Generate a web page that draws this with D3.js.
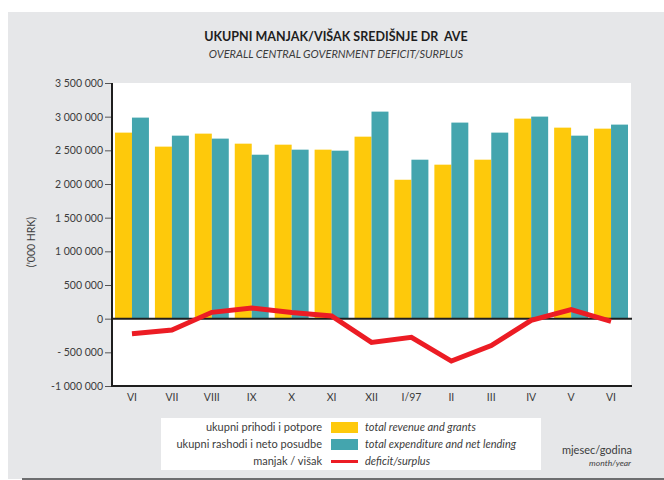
<!DOCTYPE html>
<html>
<head>
<meta charset="utf-8">
<script src="https://cdn.jsdelivr.net/npm/d3@7"></script>
<style>
  html, body { margin: 0; padding: 0; background: #fff; }
  svg { display: block; font-family: Lato, "Open Sans", sans-serif; }
</style>
</head>
<body>
<div id="chart"></div>
<script>
// Monthly central government revenue, expenditure and balance ('000 HRK).
var months = ["VI", "VII", "VIII", "IX", "X", "XI", "XII", "I/97", "II", "III", "IV", "V", "VI"];
var revenue = [2763000, 2555000, 2748000, 2599000, 2584000, 2510000, 2703000,
               2063000, 2287000, 2361000, 2971000, 2837000, 2822000];
var expenditure = [2986000, 2718000, 2674000, 2435000, 2510000, 2495000, 3075000,
                   2361000, 2912000, 2763000, 3001000, 2718000, 2882000];
var balance = [-223000, -169000, 94000, 159000, 90000, 40000, -352000,
               -278000, -630000, -400000, -25000, 134000, -40000];
var yTicks = [3500000, 3000000, 2500000, 2000000, 1500000, 1000000, 500000, 0, -500000, -1000000];
var yTickLabels = ["3 500 000", "3 000 000", "2 500 000", "2 000 000", "1 500 000",
                   "1 000 000", "500 000", "0", "- 500 000", "-1 000 000"];
var legendHr = ["ukupni prihodi i potpore", "ukupni rashodi i neto posudbe", "manjak / višak"];
var legendEn = ["total revenue and grants", "total expenditure and net lending", "deficit/surplus"];

var YELLOW = "#fec90b", TEAL = "#44a5ae", RED = "#ec1c24", TXT = "#3c3c3c";

(function () {
  var W = 664, H = 480;
  var svg = d3.select("#chart").append("svg").attr("width", W).attr("height", H);

  // grey card with a dark rule along the bottom
  svg.append("rect").attr("x", 8).attr("y", 12).attr("width", W - 8).attr("height", 467)
    .attr("fill", "#e6e7e9");
  svg.append("line").attr("x1", 22).attr("x2", W).attr("y1", 479).attr("y2", 479)
    .attr("stroke", "#6d6e70").attr("stroke-width", 2);

  svg.append("text").attr("x", 336).attr("y", 41).attr("text-anchor", "middle")
    .attr("font-weight", "bold").attr("font-size", 12.5).attr("fill", "#1e1e1e")
    .text("UKUPNI MANJAK/VIŠAK SREDIŠNJE DR  AVE").style("white-space", "pre");
  svg.append("text").attr("x", 336).attr("y", 58).attr("text-anchor", "middle")
    .attr("font-style", "italic").attr("font-size", 11).attr("fill", TXT)
    .text("OVERALL CENTRAL GOVERNMENT DEFICIT/SURPLUS");

  var left = 112, right = 631, top = 83, bottom = 386;

  var x = d3.scaleBand().domain(d3.range(months.length)).range([left, right])
    .paddingInner(0.15).paddingOuter(0.075);
  var xs = d3.scaleBand().domain([0, 1]).range([0, x.bandwidth()]);
  var y = d3.scaleLinear().domain([-1000000, 3500000]).range([bottom, top]);

  svg.append("rect").attr("x", left).attr("y", top).attr("width", right - left)
    .attr("height", bottom - top).attr("fill", "#fff");

  // bars
  var g = svg.append("g").selectAll("g").data(months).join("g")
    .attr("transform", function (_d, i) { return "translate(" + x(i) + ",0)"; });
  g.append("rect").attr("x", xs(0)).attr("width", xs.bandwidth())
    .attr("y", function (_d, i) { return y(revenue[i]); })
    .attr("height", function (_d, i) { return y(0) - y(revenue[i]); })
    .attr("fill", YELLOW);
  g.append("rect").attr("x", xs(1)).attr("width", xs.bandwidth())
    .attr("y", function (_d, i) { return y(expenditure[i]); })
    .attr("height", function (_d, i) { return y(0) - y(expenditure[i]); })
    .attr("fill", TEAL);

  // zero line
  svg.append("line").attr("x1", left).attr("x2", right + 1).attr("y1", y(0)).attr("y2", y(0))
    .attr("stroke", "#1e1e1e").attr("stroke-width", 2);

  // balance line
  var line = d3.line()
    .x(function (_d, i) { return x(i) + x.bandwidth() / 2; })
    .y(function (d) { return y(d); });
  svg.append("path").datum(balance).attr("d", line).attr("fill", "none")
    .attr("stroke", RED).attr("stroke-width", 5).attr("stroke-linejoin", "miter");

  // y axis
  var yAxis = d3.axisLeft(y).tickValues(yTicks).tickSize(7).tickPadding(2)
    .tickFormat(function (_d, i) { return yTickLabels[i]; });
  var ya = svg.append("g").attr("transform", "translate(" + left + ",0)").call(yAxis);
  ya.select(".domain").remove();
  ya.selectAll(".tick line").attr("stroke", "#555").attr("stroke-width", 1);
  ya.selectAll(".tick text").attr("font-size", 10.5).attr("fill", TXT)
    .attr("font-family", "Lato, sans-serif").style("white-space", "pre");
  svg.append("line").attr("x1", left).attr("x2", left).attr("y1", top).attr("y2", bottom + 1)
    .attr("stroke", "#1e1e1e").attr("stroke-width", 2);

  // x axis
  svg.append("line").attr("x1", left - 1).attr("x2", right + 1).attr("y1", bottom).attr("y2", bottom)
    .attr("stroke", "#1e1e1e").attr("stroke-width", 2);
  var xAxis = d3.axisBottom(x).tickSize(0).tickPadding(8)
    .tickFormat(function (i) { return months[i]; });
  var xa = svg.append("g").attr("transform", "translate(0," + bottom + ")").call(xAxis);
  xa.select(".domain").remove();
  xa.selectAll(".tick text").attr("font-size", 10.5).attr("fill", TXT)
    .attr("font-family", "Lato, sans-serif");

  svg.append("text").attr("transform", "translate(35,242) rotate(-90)")
    .attr("text-anchor", "middle").attr("font-size", 10.5).attr("fill", TXT)
    .text("('000 HRK)");

  // legend
  svg.append("rect").attr("x", 161).attr("y", 418).attr("width", 380).attr("height", 52)
    .attr("fill", "#fff");
  var rows = [427, 444, 461];
  legendHr.forEach(function (t, i) {
    svg.append("text").attr("x", 322).attr("y", rows[i] + 4).attr("text-anchor", "end")
      .attr("font-size", 11).attr("fill", TXT).text(t);
    svg.append("text").attr("x", 365).attr("y", rows[i] + 4)
      .attr("font-size", 11).attr("font-style", "italic").attr("fill", TXT).text(legendEn[i]);
  });
  svg.append("rect").attr("x", 331).attr("y", 422).attr("width", 27).attr("height", 11).attr("fill", YELLOW);
  svg.append("rect").attr("x", 331).attr("y", 439).attr("width", 27).attr("height", 11).attr("fill", TEAL);
  svg.append("rect").attr("x", 331).attr("y", 460).attr("width", 27).attr("height", 3).attr("fill", RED);

  svg.append("text").attr("x", 632).attr("y", 454).attr("text-anchor", "end")
    .attr("font-size", 11).attr("fill", TXT).text("mjesec/godina");
  svg.append("text").attr("x", 631).attr("y", 466).attr("text-anchor", "end")
    .attr("font-size", 8.5).attr("font-style", "italic").attr("fill", TXT).text("month/year");
})();
</script>
</body>
</html>
